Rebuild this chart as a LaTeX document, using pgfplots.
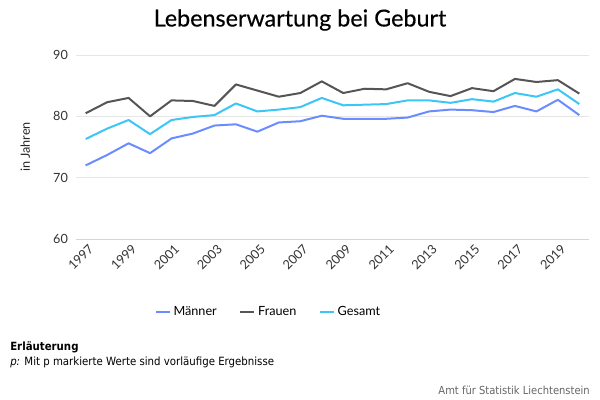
\documentclass[border=0pt]{standalone}
\usepackage{pgfplots}
\pgfplotsset{compat=1.18}
\usepackage{fontspec}
\setmainfont{Lato}
\newfontfamily\titlefont[FakeBold=0.35]{Lato}
\newfontfamily\notefont{DejaVu Sans Condensed}
\definecolor{maenner}{HTML}{6B8CFF}
\definecolor{frauen}{HTML}{555555}
\definecolor{gesamt}{HTML}{3CC6F5}
\definecolor{gridc}{HTML}{E6E6E6}
\definecolor{axisc}{HTML}{CCD6EB}

\begin{document}
\begin{tikzpicture}
\path[use as bounding box] (0,0) rectangle (450pt,300pt);
\node[font=\titlefont\fontsize{17.5}{20}\selectfont, text=black] at (225pt,285pt) {Lebenserwartung bei Geburt};
\begin{axis}[
    at={(57pt,120.75pt)}, anchor=south west,
    width=384.75pt, height=138pt, scale only axis,
    xmin=1996.55, xmax=2020.45,
    ymin=60, ymax=90,
    ytick={60,70,80,90},
    xtick={1997,1999,...,2019},
    axis x line*=bottom, axis y line*=left,
    x axis line style={draw=axisc, line width=0.75pt},
    y axis line style={draw=none},
    major tick length=0pt,
    ymajorgrids, grid style={gridc, line width=0.75pt},
    /pgf/number format/1000 sep={},
    /pgf/number format/assume math mode=true,
    tick label style={font=\fontsize{9.5}{11}\selectfont, text=black!80},
    x tick label style={rotate=45, anchor=east, inner sep=0pt, yshift=-7pt, xshift=-0.5pt},
    y tick label style={xshift=-2pt},
    line width=1.5pt,
    legend style={draw=none, at={(axis description cs:0.376,-0.397)}, anchor=center,
        font=\fontsize{9.5}{11}\selectfont, legend columns=3,
        /tikz/every even column/.append style={column sep=15pt}},
    legend image code/.code={\draw[#1, line width=1.5pt] (0pt,0pt) -- (10.5pt,0pt);},
]
\addplot[maenner, line join=round] coordinates {
 (1997,72.0) (1998,73.7) (1999,75.6) (2000,74.0) (2001,76.4) (2002,77.2)
 (2003,78.5) (2004,78.7) (2005,77.5) (2006,79.0) (2007,79.2) (2008,80.1)
 (2009,79.6) (2010,79.6) (2011,79.6) (2012,79.8) (2013,80.8) (2014,81.1)
 (2015,81.0) (2016,80.7) (2017,81.7) (2018,80.8) (2019,82.7) (2020,80.2)};
\addlegendentry{Männer}
\addplot[frauen, line join=round] coordinates {
 (1997,80.5) (1998,82.3) (1999,83.0) (2000,80.0) (2001,82.6) (2002,82.5)
 (2003,81.7) (2004,85.2) (2005,84.2) (2006,83.2) (2007,83.8) (2008,85.7)
 (2009,83.8) (2010,84.5) (2011,84.4) (2012,85.4) (2013,84.0) (2014,83.3)
 (2015,84.6) (2016,84.1) (2017,86.1) (2018,85.6) (2019,85.9) (2020,83.7)};
\addlegendentry{Frauen}
\addplot[gesamt, line join=round] coordinates {
 (1997,76.3) (1998,78.0) (1999,79.4) (2000,77.1) (2001,79.4) (2002,79.9)
 (2003,80.2) (2004,82.1) (2005,80.8) (2006,81.1) (2007,81.5) (2008,83.0)
 (2009,81.8) (2010,81.9) (2011,82.0) (2012,82.6) (2013,82.6) (2014,82.2)
 (2015,82.8) (2016,82.4) (2017,83.8) (2018,83.2) (2019,84.4) (2020,82.0)};
\addlegendentry{Gesamt}
\end{axis}
\node[rotate=90, font=\fontsize{9.5}{11}\selectfont, text=black!85] at (19pt,189.75pt) {in Jahren};
\node[anchor=base west, inner sep=0pt, font=\notefont\bfseries\fontsize{8.5}{10}\selectfont] at (7.5pt,37.5pt) {Erläuterung};
\node[anchor=base west, inner sep=0pt, font=\notefont\fontsize{8.5}{10}\selectfont] at (7.5pt,26pt) {\textit{p:} Mit p markierte Werte sind vorläufige Ergebnisse};
\node[anchor=base east, inner sep=0pt, font=\notefont\fontsize{8.3}{9}\selectfont, text=black!60] at (442.5pt,4.5pt) {Amt für Statistik Liechtenstein};
\end{tikzpicture}
\end{document}
